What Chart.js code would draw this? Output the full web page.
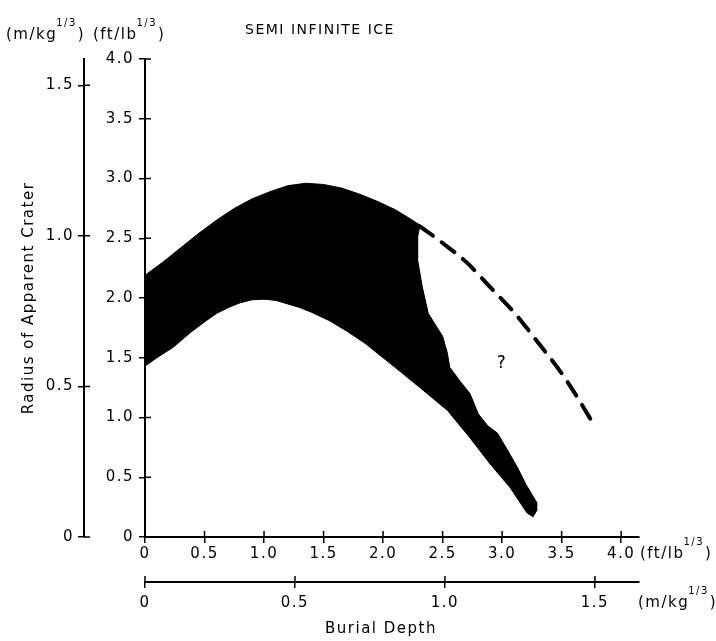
<!DOCTYPE html>
<html>
<head>
<meta charset="utf-8">
<script src="https://cdn.jsdelivr.net/npm/chart.js@4/dist/chart.umd.min.js"></script>
<style>
  html, body { margin: 0; padding: 0; background: #fff; }
  #wrap { width: 716px; height: 641px; }
</style>
</head>
<body>
<div id="wrap"><canvas id="crater" width="716" height="641"></canvas></div>
<script>
// Scaled burial depth vs. scaled radius of apparent crater, semi-infinite ice.
// Both axes in ft/lb^(1/3); secondary axes in m/kg^(1/3).
const FT_PER_MKG = 2.52;

const heading = 'SEMI INFINITE ICE';
const xTitle = 'Burial Depth';
const yTitle = 'Radius of Apparent Crater';

const ftTicks = [0, 0.5, 1.0, 1.5, 2.0, 2.5, 3.0, 3.5, 4.0];
const mkgTicks = [0, 0.5, 1.0, 1.5];

// Upper edge of the shaded band (left to right)
const bandTop = [
  [0, 2.19], [0.15, 2.30], [0.3, 2.42], [0.45, 2.54], [0.6, 2.65], [0.75, 2.75],
  [0.9, 2.83], [1.05, 2.89], [1.2, 2.94], [1.35, 2.96], [1.5, 2.95], [1.65, 2.92],
  [1.8, 2.87], [1.95, 2.81], [2.1, 2.74], [2.2, 2.68], [2.31, 2.61]
];
// Steep right-hand edge of the band (top to bottom)
const bandFront = [
  [2.29, 2.51], [2.29, 2.32], [2.33, 2.09], [2.38, 1.87], [2.45, 1.76], [2.50, 1.68],
  [2.54, 1.54], [2.56, 1.42], [2.65, 1.30], [2.73, 1.20], [2.80, 1.03], [2.88, 0.93],
  [2.96, 0.87], [3.05, 0.72], [3.13, 0.58], [3.20, 0.44], [3.29, 0.29], [3.29, 0.22],
  [3.26, 0.17]
];
// Lower edge of the band (right to left)
const bandBottom = [
  [3.21, 0.20], [3.07, 0.41], [2.90, 0.61], [2.73, 0.83], [2.54, 1.06], [2.31, 1.25],
  [2.15, 1.38], [2.0, 1.50], [1.85, 1.62], [1.7, 1.72], [1.55, 1.81], [1.4, 1.88],
  [1.3, 1.92], [1.2, 1.95], [1.1, 1.98], [1.0, 1.99], [0.9, 1.985], [0.8, 1.96],
  [0.7, 1.92], [0.6, 1.87], [0.5, 1.80], [0.38, 1.71], [0.24, 1.59], [0.1, 1.50],
  [0, 1.43]
];
// Extrapolated (dashed) upper edge
const dashedEdge = [
  [2.31, 2.60], [2.5, 2.46], [2.7, 2.30], [2.9, 2.09], [3.1, 1.88], [3.3, 1.63],
  [3.5, 1.37], [3.65, 1.14], [3.77, 0.94]
];
const unknownMark = { x: 3.0, y: 1.45, text: '?' };

const FONT = '"DejaVu Sans", "Liberation Sans", sans-serif';
const LETTER_SPACING = '1.5px';
const toPts = arr => arr.map(([x, y]) => ({ x, y }));
const fmt = v => (v === 0 ? '0' : Number(v).toFixed(1));

const bandOutline = toPts([...bandTop, ...bandFront, ...bandBottom]);

// Letter spacing applied to every text drawn on the canvas
const spacing = {
  id: 'spacing',
  beforeUpdate(chart) { chart.ctx.letterSpacing = LETTER_SPACING; },
  beforeDraw(chart) { chart.ctx.letterSpacing = LETTER_SPACING; }
};

// Tick marks that cross their axis line (inner half)
const crossTicks = {
  id: 'crossTicks',
  afterDraw(chart) {
    const { ctx } = chart;
    const len = 6;
    ctx.save();
    ctx.strokeStyle = '#000';
    ctx.lineWidth = 1.5;
    for (const id of ['x', 'xm', 'y', 'ym']) {
      const s = chart.scales[id];
      ctx.beginPath();
      for (const t of s.ticks) {
        const p = s.getPixelForValue(t.value);
        if (s.isHorizontal()) { ctx.moveTo(p, s.top); ctx.lineTo(p, s.top - len); }
        else { ctx.moveTo(s.right, p); ctx.lineTo(s.right + len, p); }
      }
      ctx.stroke();
    }
    ctx.restore();
  }
};

function unitText(ctx, base, x, yMid, size) {
  ctx.textAlign = 'left';
  ctx.textBaseline = 'middle';
  ctx.font = size + 'px ' + FONT;
  const a = '(' + base;
  ctx.fillText(a, x, yMid);
  let cx = x + ctx.measureText(a).width;
  ctx.font = Math.round(size * 0.68) + 'px ' + FONT;
  ctx.fillText('1/3', cx - 1, yMid - size * 0.75);
  cx += ctx.measureText('1/3').width;
  ctx.font = size + 'px ' + FONT;
  ctx.fillText(')', cx, yMid);
}

// Heading, unit captions, axis caption and the "?" mark
const annotate = {
  id: 'annotate',
  afterDraw(chart) {
    const { ctx } = chart;
    const { x, y, xm } = chart.scales;
    ctx.save();
    ctx.fillStyle = '#000';
    ctx.textBaseline = 'middle';

    ctx.textAlign = 'center';
    ctx.font = '14px ' + FONT;
    ctx.fillText(heading, x.getPixelForValue(1.47), y.top - 29);

    unitText(ctx, 'm/kg', 6, y.top - 24, 15);
    unitText(ctx, 'ft/lb', 93, y.top - 24, 15);

    unitText(ctx, 'ft/lb', x.right + 1, x.top + 17, 15);
    unitText(ctx, 'm/kg', x.right - 1, xm.top + 21, 15);

    ctx.textAlign = 'center';
    ctx.font = '15px ' + FONT;
    ctx.fillText(xTitle, 381, xm.top + 47);

    ctx.font = '17px ' + FONT;
    ctx.fillText(unknownMark.text, x.getPixelForValue(unknownMark.x), y.getPixelForValue(unknownMark.y));
    ctx.restore();
  }
};

const tickFont = { family: FONT, size: 15 };
const gridOpts = { display: true, drawOnChartArea: false, drawTicks: true, tickLength: 6, color: '#000', lineWidth: 1.5 };
const borderOpts = { display: true, color: '#000', width: 2 };

new Chart(document.getElementById('crater'), {
  type: 'line',
  data: {
    datasets: [
      {
        label: 'Observed',
        data: bandOutline,
        borderColor: '#000',
        backgroundColor: '#000',
        borderWidth: 1,
        pointRadius: 0,
        tension: 0,
        fill: 'shape',
        order: 2
      },
      {
        label: 'Extrapolated',
        data: toPts(dashedEdge),
        borderColor: '#000',
        borderWidth: 4,
        borderDash: [16, 11],
        borderCapStyle: 'round',
        pointRadius: 0,
        cubicInterpolationMode: 'monotone',
        fill: false,
        order: 1
      }
    ]
  },
  options: {
    responsive: false,
    devicePixelRatio: 1,
    animation: false,
    layout: { padding: { left: 0, right: 77, top: 59, bottom: 0 } },
    plugins: { legend: { display: false }, tooltip: { enabled: false }, title: { display: false } },
    scales: {
      x: {
        type: 'linear', position: 'bottom', weight: 0, min: 0, max: 4.15,
        afterBuildTicks: s => { s.ticks = ftTicks.map(v => ({ value: v })); },
        afterFit: s => { s.height = 45; },
        ticks: { callback: fmt, color: '#000', font: tickFont, padding: 2, maxRotation: 0, autoSkip: false },
        grid: gridOpts, border: borderOpts
      },
      xm: {
        type: 'linear', position: 'bottom', weight: 1, min: 0, max: 4.15 / FT_PER_MKG,
        afterBuildTicks: s => { s.ticks = mkgTicks.map(v => ({ value: v })); },
        afterFit: s => { s.height = 59; },
        ticks: { callback: fmt, color: '#000', font: tickFont, padding: 6, maxRotation: 0, autoSkip: false },
        grid: gridOpts, border: borderOpts
      },
      y: {
        type: 'linear', position: 'left', weight: 0, min: 0, max: 4.0,
        afterBuildTicks: s => { s.ticks = ftTicks.map(v => ({ value: v })); },
        afterFit: s => { s.width = 61; },
        ticks: { callback: fmt, color: '#000', font: tickFont, padding: 5, autoSkip: false },
        grid: gridOpts, border: borderOpts
      },
      ym: {
        type: 'linear', position: 'left', weight: 1, min: 0, max: 4.0 / FT_PER_MKG,
        afterBuildTicks: s => { s.ticks = mkgTicks.map(v => ({ value: v })); },
        afterFit: s => { s.width = 84; },
        ticks: { callback: fmt, color: '#000', font: tickFont, padding: 4, autoSkip: false },
        grid: gridOpts, border: borderOpts,
        title: { display: true, text: yTitle, color: '#000', font: { family: FONT, size: 15 }, padding: { top: 20, bottom: 0 } }
      }
    }
  },
  plugins: [spacing, crossTicks, annotate]
});
</script>
</body>
</html>
